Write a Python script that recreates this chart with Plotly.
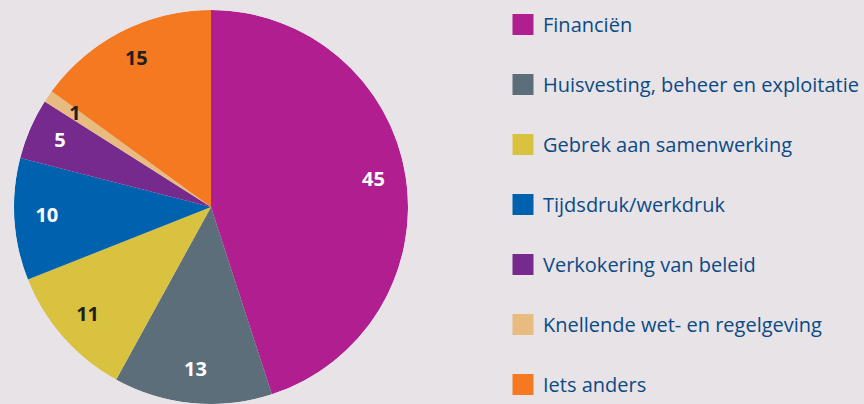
import numpy as np
import plotly.graph_objects as go

# Survey answers: main bottleneck named by respondents (percentages)
categories = [
    "Financiën",
    "Huisvesting, beheer en exploitatie",
    "Gebrek aan samenwerking",
    "Tijdsdruk/werkdruk",
    "Verkokering van beleid",
    "Knellende wet- en regelgeving",
    "Iets anders",
]
values = [45, 13, 11, 10, 5, 1, 15]
colors = ["#b01e8f", "#5b6e7a", "#d9c23f", "#0062ae", "#772a8e", "#e8bc80", "#f47920"]
label_colors = ["#ffffff", "#ffffff", "#231f20", "#ffffff", "#ffffff", "#231f20", "#231f20"]

BG = "#e8e3e7"
LEGEND_TEXT = "#0b4a84"
W, H = 864, 404
PIE_DOMAIN = dict(x=[14 / W, 408 / W], y=[0, 394 / H])
LABEL_RADIUS = 0.835  # fraction of the pie radius where the value labels sit

vals = np.array(values, dtype=float)
span = vals / vals.sum() * 360           # angular width of each slice
mid_angle = np.cumsum(span) - span / 2   # slice centres, clockwise from 12 o'clock

fig = go.Figure()

# Pie slices as full-radius polar bars
fig.add_trace(go.Barpolar(
    r=[1] * len(values),
    theta=mid_angle,
    width=span,
    marker=dict(color=colors, line=dict(width=0)),
    customdata=categories,
    hovertemplate="%{customdata}: %{text}<extra></extra>",
    text=[str(v) for v in values],
    showlegend=False,
))

# Value labels at each slice's mid-angle
fig.add_trace(go.Scatterpolar(
    r=[LABEL_RADIUS] * len(values),
    theta=mid_angle,
    mode="text",
    text=[str(v) for v in values],
    textposition="middle center",
    textfont=dict(family="Open Sans", size=20, color=label_colors, weight="bold"),
    showlegend=False,
    hoverinfo="skip",
))

# One legend entry per category, each in its own group so the gap spaces them out
for name, col in zip(categories, colors):
    fig.add_trace(go.Scatter(
        x=[None], y=[None], mode="markers", name=name,
        legendgroup=name,
        marker=dict(symbol="square", size=16, color=col, line=dict(width=5, color=col)),
        hoverinfo="skip",
    ))

fig.update_layout(
    width=W, height=H,
    margin=dict(l=0, r=0, t=0, b=0),
    paper_bgcolor=BG, plot_bgcolor=BG,
    xaxis=dict(visible=False), yaxis=dict(visible=False),
    polar=dict(
        domain=PIE_DOMAIN,
        bgcolor="rgba(0,0,0,0)",
        bargap=0,
        radialaxis=dict(range=[0, 1], visible=False, showgrid=False),
        angularaxis=dict(rotation=90, direction="clockwise", visible=False, showgrid=False),
    ),
    legend=dict(
        x=503 / W, xanchor="left", y=1 - 5 / H, yanchor="top",
        bgcolor="rgba(0,0,0,0)", borderwidth=0,
        font=dict(family="Open Sans", size=20, color=LEGEND_TEXT),
        tracegroupgap=31, itemclick=False,
    ),
)

fig.write_html("out.html")
